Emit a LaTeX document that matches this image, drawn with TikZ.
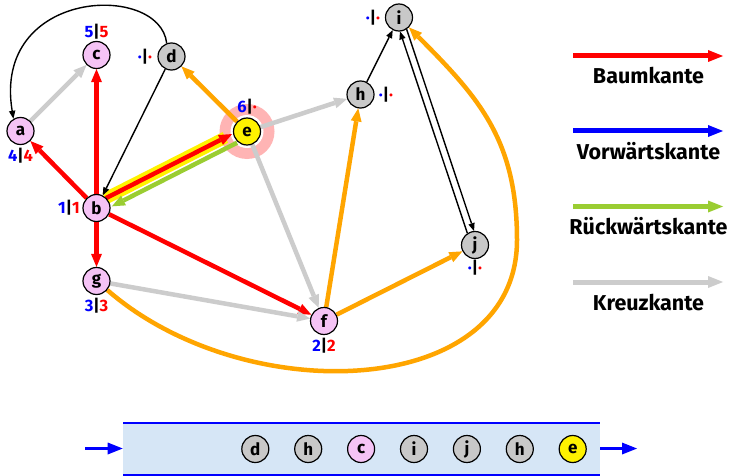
\documentclass[tikz,border=0pt]{standalone}
\usepackage{fontspec}
\setmainfont{Fira Sans}
\usetikzlibrary{arrows.meta,calc}
\pgfdeclarelayer{bg}
\pgfsetlayers{bg,main}
\definecolor{nodepink}{RGB}{245,195,245}
\definecolor{nodegray}{RGB}{200,200,200}
\definecolor{edgegray}{RGB}{204,204,204}
\definecolor{eorange}{RGB}{255,165,0}
\definecolor{egreen}{RGB}{154,205,50}
\definecolor{qfill}{RGB}{214,230,246}
\definecolor{halo}{RGB}{255,180,180}
\definecolor{hyellow}{RGB}{255,242,0}
\begin{document}
\begin{tikzpicture}[x=1pt,y=1pt,
  vert/.style={circle,draw=black,line width=1.2pt,minimum size=27pt,inner sep=0pt,font=\fontsize{17}{17}\selectfont\bfseries},
  pinkv/.style={vert,fill=nodepink},
  grayv/.style={vert,fill=nodegray},
  yelv/.style={vert,fill=hyellow},
  fatedge/.style={line width=4.5pt,-{Triangle[length=13pt,width=11pt,line width=0pt]}},
  edgetree/.style={fatedge,color=red},
  edgecross/.style={fatedge,color=edgegray},
  edgeback/.style={fatedge,color=egreen},
  edgeopen/.style={fatedge,color=eorange},
  edgethin/.style={line width=1.4pt,color=black,-{Triangle[length=8pt,width=6.5pt,line width=0pt]}},
  lab/.style={font=\fontsize{16.5}{16.5}\selectfont\bfseries,inner sep=0pt},
  legtext/.style={font=\fontsize{21.5}{21.5}\selectfont\bfseries,inner sep=0pt},
  legarrow/.style={line width=5pt,-{Triangle[length=15pt,width=12pt,line width=0pt]}},
  qarrow/.style={line width=2.5pt,color=blue,-{Triangle[length=15pt,width=12pt,line width=0pt]}}
]
\useasboundingbox (0,0) rectangle (733,-476);

% graph nodes
\node[pinkv] (a) at (20.5,-131) {a};
\node[pinkv] (c) at (96.5,-55) {c};
\node[grayv] (d) at (171.5,-56.5) {d};
\node[yelv]  (e) at (247,-131.5) {e};
\node[pinkv] (b) at (96.5,-208) {b};
\node[pinkv] (g) at (96.5,-281) {g};
\node[pinkv] (f) at (324,-321) {f};
\node[grayv] (h) at (360.5,-94.5) {h};
\node[grayv] (i) at (399,-17.5) {i};
\node[grayv] (j) at (475,-245) {j};

% labels
\node[lab] (lc) at (96.5,-32) {\textcolor{blue}{5}|\textcolor{red}{5}};
\node[lab] (ld) at (145,-57) {\textcolor{blue}{·}|\textcolor{red}{·}};
\node[lab] (la) at (20.5,-156) {\textcolor{blue}{4}|\textcolor{red}{4}};
\node[lab] (lb) at (69,-208) {\textcolor{blue}{1}|\textcolor{red}{1}};
\node[lab] (le) at (247,-107) {\textcolor{blue}{6}|\textcolor{red}{·}};
\node[lab] (lh) at (386,-94.5) {\textcolor{blue}{·}|\textcolor{red}{·}};
\node[lab] (li) at (373,-17.5) {\textcolor{blue}{·}|\textcolor{red}{·}};
\node[lab] (lj) at (475,-268) {\textcolor{blue}{·}|\textcolor{red}{·}};
\node[lab] (lg) at (96.5,-306) {\textcolor{blue}{3}|\textcolor{red}{3}};
\node[lab] (lf) at (324,-346) {\textcolor{blue}{2}|\textcolor{red}{2}};

\coordinate (gi) at (517,-240);

\begin{pgfonlayer}{bg}
  \fill[white] (0,0) rectangle (733,-476);
  \fill[halo] (e) circle (27.5);
  \fill[white] (e) circle (16.5);
  % highlight under b -> e
  \draw[hyellow,line width=12pt,shorten <=12pt,shorten >=22pt] ($(b)!4.5pt!90:(e)$) -- ($(e)!4.5pt!-90:(b)$);
  % tree edges
  \draw[edgetree,shorten <=13pt,shorten >=14.5pt] ($(b)!4.5pt!90:(e)$) -- ($(e)!4.5pt!-90:(b)$);
  \draw[edgetree] (b) -- (a);
  \draw[edgetree] (b) -- (c);
  \draw[edgetree] (b) -- (g);
  \draw[edgetree] (b) -- (f);
  % back edge
  \draw[edgeback,shorten <=14pt,shorten >=14.5pt] ($(e)!5.5pt!90:(b)$) -- ($(b)!5.5pt!-90:(e)$);
  % cross edges
  \draw[edgecross] (a) -- (c);
  \draw[edgecross] (e) -- (h);
  \draw[edgecross] (e) -- (f);
  \draw[edgecross] (g) -- (f);
  % open edges
  \draw[edgeopen] (e) -- (d);
  \draw[edgeopen] (f) -- (h);
  \draw[edgeopen] (f) -- (j);
  \draw[edgeopen] (g.-40) .. controls (245,-410) and (517,-400) .. (gi)
                          .. controls (517,-140) and (479,-97.7) .. (i.-45);
  % thin black edges
  \draw[edgethin] (d.110) .. controls (160,18) and (-8,12) .. (a.120);
  \draw[edgethin] (d) -- (b);
  \draw[edgethin] (h) -- (i);
  \draw[edgethin,shorten <=13.5pt,shorten >=13.5pt] ($(i)!3.5pt!90:(j)$) -- ($(j)!3.5pt!-90:(i)$);
  \draw[edgethin,shorten <=13.5pt,shorten >=13.5pt] ($(j)!3.5pt!90:(i)$) -- ($(i)!3.5pt!-90:(j)$);
\end{pgfonlayer}

% legend
\coordinate (l1s) at (573,-56);  \coordinate (l1e) at (723,-56);
\coordinate (l2s) at (573,-131); \coordinate (l2e) at (723,-131);
\coordinate (l3s) at (573,-206.5); \coordinate (l3e) at (723,-206.5);
\coordinate (l4s) at (573,-282); \coordinate (l4e) at (723,-282);
\draw[legarrow,color=red] (l1s) -- (l1e);
\draw[legarrow,color=blue] (l2s) -- (l2e);
\draw[legarrow,color=egreen] (l3s) -- (l3e);
\draw[legarrow,color=edgegray] (l4s) -- (l4e);
\node[legtext] (t1) at (648.5,-76) {Baumkante};
\node[legtext] (t2) at (648.5,-151) {Vorwärtskante};
\node[legtext] (t3) at (648.5,-226.5) {Rückwärtskante};
\node[legtext] (t4) at (648.5,-302.5) {Kreuzkante};

% queue
\fill[qfill] (123,-422.5) rectangle (599.5,-475);
\draw[blue,line width=2pt] (123,-422.5) -- (599.5,-422.5);
\draw[blue,line width=2pt] (123,-475) -- (599.5,-475);
\node[grayv] (q1) at (255.3,-449) {d};
\node[grayv] (q2) at (308.2,-449) {h};
\node[pinkv] (q3) at (361.1,-449) {c};
\node[grayv] (q4) at (414,-449) {i};
\node[grayv] (q5) at (466.9,-449) {j};
\node[grayv] (q6) at (519.8,-449) {h};
\node[yelv]  (q7) at (572.7,-449) {e};
\coordinate (qa) at (85,-448.5);  \coordinate (qb) at (122.7,-448.5);
\coordinate (qc) at (600,-448.5); \coordinate (qd) at (637,-448.5);
\draw[qarrow] (qa) -- (qb);
\draw[qarrow] (qc) -- (qd);
\end{tikzpicture}
\end{document}
